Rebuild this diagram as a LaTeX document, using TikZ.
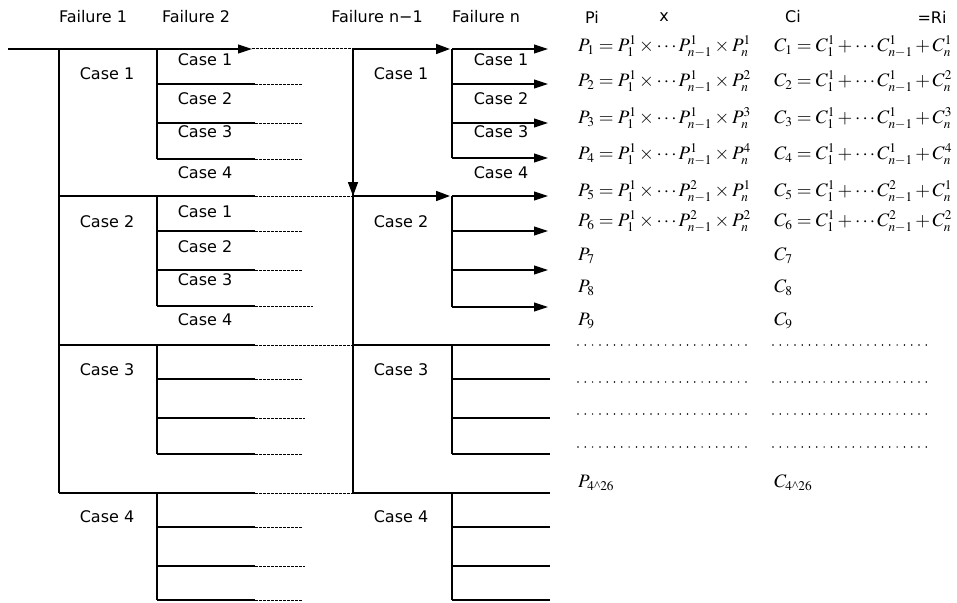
\documentclass[tikz,border=0pt]{standalone}
\usepackage{amsmath}
\usepackage{mathptmx}
\usepackage[no-math]{fontspec}
\setmainfont{Liberation Serif}
\newfontfamily\gothic{DejaVu Sans}
\usetikzlibrary{arrows.meta}
\DeclareMathSizes{19}{19}{13.3}{9.5}

\tikzset{
  lbl/.style={font=\gothic\fontsize{16}{18}\selectfont, inner sep=0pt},
  eqn/.style={font=\fontsize{19}{23}\selectfont, inner sep=0pt, anchor=west},
  branch/.style={line width=1.1pt, black},
  boldarrow/.style={line width=1.6pt, -{Triangle[length=14pt,width=10pt]}},
  thinarrow/.style={line width=1.1pt, -{Triangle[length=14pt,width=9pt]}},
  hint/.style={line width=1pt, dash pattern=on 2.5pt off 1.5pt},
  dotrow/.style={line width=1.7pt, line cap=round, dash pattern=on 0pt off 7.3pt},
}
\newcommand{\pow}{\text{\textasciicircum}}

\begin{document}
\begin{tikzpicture}[x=1pt, y=-1pt]
\useasboundingbox (0,0) rectangle (957,602);

% ---- column headings ----
\node[lbl] (h1) at (93,17) {Failure 1};
\node[lbl] (h2) at (196,17) {Failure 2};
\node[lbl] (h3) at (377,17) {Failure n−1};
\node[lbl] (h4) at (486,17) {Failure n};
\node[lbl] (hp) at (592,17) {Pi};
\node[lbl] (hx) at (664,17) {x};
\node[lbl] (hc) at (793,17) {Ci};
\node[lbl] (hr) at (932,17) {=Ri};

% ---- key junctions ----
\coordinate (start) at (8,49);
\coordinate (f1top) at (59,49);
\coordinate (f1bot) at (59,493);
\coordinate (tip1) at (252,49);
\coordinate (m1) at (353,49);
\coordinate (m2) at (353,196);
\coordinate (mbot) at (353,493);

% ---- Failure 1 trunk ----
\draw[thinarrow] (start) -- (tip1);
\draw[hint] (tip1) -- (m1);
\draw[branch] (f1top) -- (f1bot);

% ---- Failure 2 branches (four groups) ----
\foreach \g/\a/\b/\c/\da/\db/\dc in
  {49/84/123/159/303/303/303,
   196/231/270/306/303/303/313,
   345/379/418/454/303/305/303,
   493/527/566/600/303/305/303}{
  \draw[branch] (157,\g) -- (157,\c);
  \foreach \y/\d in {\a/\da,\b/\db,\c/\dc}{
    \draw[branch] (157,\y) -- (255,\y);
    \draw[hint] (255,\y) -- (\d,\y);
  }
}
\foreach \g in {196,345,493}{
  \draw[branch] (59,\g) -- (255,\g);
  \draw[hint] (255,\g) -- (353,\g);
}

% ---- Failure n-1 trunk ----
\draw[branch] (m1) -- (mbot);
\draw[boldarrow] (m1) -- (m2);
\draw[boldarrow] (m1) -- (450,49);
\draw[boldarrow] (m2) -- (450,196);

% ---- Failure n branches with arrows ----
\foreach \g/\a/\b/\c in {49/84/123/158, 196/231/270/307}{
  \draw[branch] (452,\g) -- (452,\c);
  \foreach \y in {\g,\a,\b,\c}
    \draw[thinarrow] (452,\y) -- (548,\y);
}
% ---- Failure n branches without arrows ----
\foreach \g/\a/\b/\c in {345/379/418/454, 493/527/566/600}{
  \draw[branch] (353,\g) -- (550,\g);
  \draw[branch] (452,\g) -- (452,\c);
  \foreach \y in {\a,\b,\c}
    \draw[branch] (452,\y) -- (550,\y);
}

% ---- case labels ----
\foreach \k/\y in {1/74,2/222,3/370,4/517}{
  \node[lbl] (fa\k) at (107,\y) {Case \k};
  \node[lbl] (fm\k) at (401,\y) {Case \k};
}
\foreach \k/\y in {1/60,2/99,3/132,4/173}{
  \node[lbl] (sa\k) at (205,\y) {Case \k};
  \node[lbl] (sn\k) at (501,\y) {Case \k};
}
\foreach \k/\y in {1/212,2/247,3/280,4/320}
  \node[lbl] (sb\k) at (205,\y) {Case \k};

% ---- probability and cost column ----
\node[eqn] (p1) at (578,47)  {$P_1=P_1^1\times\cdots P_{n-1}^1\times P_n^1$};
\node[eqn] (p2) at (578,82)  {$P_2=P_1^1\times\cdots P_{n-1}^1\times P_n^2$};
\node[eqn] (p3) at (578,119) {$P_3=P_1^1\times\cdots P_{n-1}^1\times P_n^3$};
\node[eqn] (p4) at (578,155) {$P_4=P_1^1\times\cdots P_{n-1}^1\times P_n^4$};
\node[eqn] (p5) at (578,192) {$P_5=P_1^1\times\cdots P_{n-1}^2\times P_n^1$};
\node[eqn] (p6) at (578,222) {$P_6=P_1^1\times\cdots P_{n-1}^2\times P_n^2$};
\node[eqn] (p7) at (578,256) {$P_7$};
\node[eqn] (p8) at (578,288) {$P_8$};
\node[eqn] (p9) at (578,321) {$P_9$};
\node[eqn] (pz) at (578,483) {$P_{4\pow 26}$};

\node[eqn] (c1) at (774,47)  {$C_1=C_1^1+\cdots C_{n-1}^1+C_n^1$};
\node[eqn] (c2) at (774,82)  {$C_2=C_1^1+\cdots C_{n-1}^1+C_n^2$};
\node[eqn] (c3) at (774,119) {$C_3=C_1^1+\cdots C_{n-1}^1+C_n^3$};
\node[eqn] (c4) at (774,155) {$C_4=C_1^1+\cdots C_{n-1}^1+C_n^4$};
\node[eqn] (c5) at (774,192) {$C_5=C_1^1+\cdots C_{n-1}^2+C_n^1$};
\node[eqn] (c6) at (774,222) {$C_6=C_1^1+\cdots C_{n-1}^2+C_n^2$};
\node[eqn] (c7) at (774,256) {$C_7$};
\node[eqn] (c8) at (774,288) {$C_8$};
\node[eqn] (c9) at (774,321) {$C_9$};
\node[eqn] (cz) at (774,483) {$C_{4\pow 26}$};

% ---- rows left open ----
\foreach \y in {345,382,414,447}{
  \draw[dotrow] (578,\y) -- (753,\y);
  \draw[dotrow] (773,\y) -- (932,\y);
}
\end{tikzpicture}
\end{document}
